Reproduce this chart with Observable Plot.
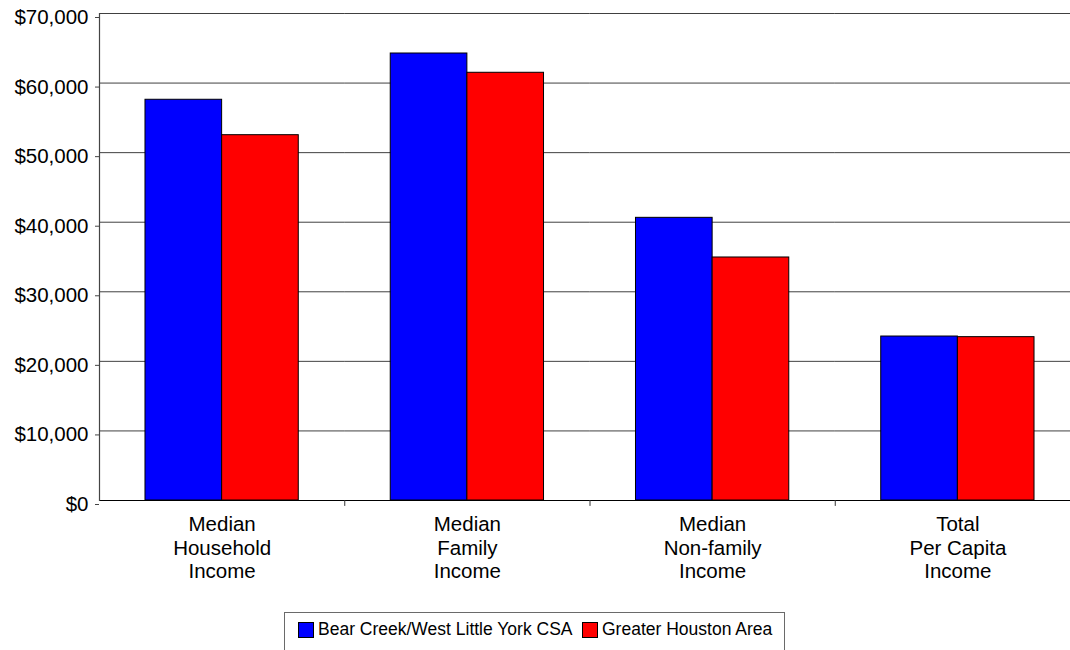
<!DOCTYPE html>
<html>
<head>
<meta charset="utf-8">
<script src="https://cdn.jsdelivr.net/npm/d3@7"></script>
<script src="https://cdn.jsdelivr.net/npm/@observablehq/plot@0.6"></script>
<style>
  html, body { margin: 0; padding: 0; background: #fff; overflow: hidden; width: 1070px; height: 650px; }
  body { position: relative; font-family: "Liberation Sans", Arial, sans-serif; color: #000; }
  #chart { position: absolute; left: 0; top: 0; width: 1080px; }
  #chart svg { max-width: none !important; }
  #legend {
    position: absolute; left: 284px; top: 612px; width: 501px; height: 50px;
    border: 1px solid #6a6a6a; box-sizing: border-box; background: #fff;
    font-size: 17.5px; white-space: nowrap;
  }
  .item { position: absolute; top: 8px; display: flex; align-items: center; line-height: 17px; }
  .sw { width: 14px; height: 14px; border: 1px solid #000; margin-right: 4px; flex: none; }
</style>
</head>
<body>
<div id="chart"></div>
<div id="legend"></div>
<script>
const categories = ["Median\nHousehold\nIncome", "Median\nFamily\nIncome", "Median\nNon-family\nIncome", "Total\nPer Capita\nIncome"];
const seriesNames = ["Bear Creek/West Little York CSA", "Greater Houston Area"];
const bearCreek = [57600, 64250, 40630, 23570];
const houston = [52510, 61480, 34930, 23480];
const seriesColors = ["#0000ff", "#ff0000"];
const yTicks = [0, 10000, 20000, 30000, 40000, 50000, 60000, 70000];

const data = [];
categories.forEach((c, i) => {
  data.push({category: c, series: seriesNames[0], value: bearCreek[i]});
  data.push({category: c, series: seriesNames[1], value: houston[i]});
});

const tickShape = { draw(context, l) { context.moveTo(0, 0); context.lineTo(0, -l); } };

const chart = Plot.plot({
  width: 1080,
  height: 600,
  marginLeft: 99,
  marginRight: 0,
  marginTop: 13,
  marginBottom: 100,
  style: { fontFamily: "'Liberation Sans', Arial, sans-serif", fontSize: "20.5px", color: "#000", background: "#fff", maxWidth: "none" },
  fx: { domain: categories, padding: 0, round: false, label: null },
  x: { domain: seriesNames, paddingInner: 0, paddingOuter: 0.6, round: false, axis: null },
  y: { domain: [0, 70000], label: null },
  color: { domain: seriesNames, range: seriesColors },
  marks: [
    Plot.gridY(yTicks, { stroke: "#000", strokeOpacity: 0.75, strokeWidth: 1 }),
    Plot.barY(data, { fx: "category", x: "series", y: "value", fill: "series", stroke: "#000", strokeWidth: 1 }),
    Plot.ruleY([0], { stroke: "#000", strokeWidth: 1 }),
    Plot.frame({ anchor: "left", facetAnchor: "left", stroke: "#444", strokeWidth: 1.2 }),
    Plot.vector([0], { frameAnchor: "bottom-right", length: 5, rotate: 180, anchor: "start", shape: tickShape, stroke: "#333", strokeWidth: 1 }),
    Plot.axisY(yTicks, { tickFormat: d => "$" + d3.format(",")(d), tickSize: 4, tickPadding: 7, fontSize: 20.5, dy: 4, stroke: "#444", label: null }),
    Plot.axisFx({ anchor: "bottom", tickSize: 0, tickPadding: 14, fontSize: 20.5, lineHeight: 1.15, label: null })
  ]
});
document.getElementById("chart").appendChild(chart);

const legend = document.getElementById("legend");
const lefts = [13, 297];
seriesNames.forEach((s, i) => {
  const item = document.createElement("div");
  item.className = "item";
  item.style.left = lefts[i] + "px";
  const sw = document.createElement("div");
  sw.className = "sw";
  sw.style.background = seriesColors[i];
  const t = document.createElement("span");
  t.textContent = s;
  item.appendChild(sw);
  item.appendChild(t);
  legend.appendChild(item);
});
</script>
</body>
</html>
